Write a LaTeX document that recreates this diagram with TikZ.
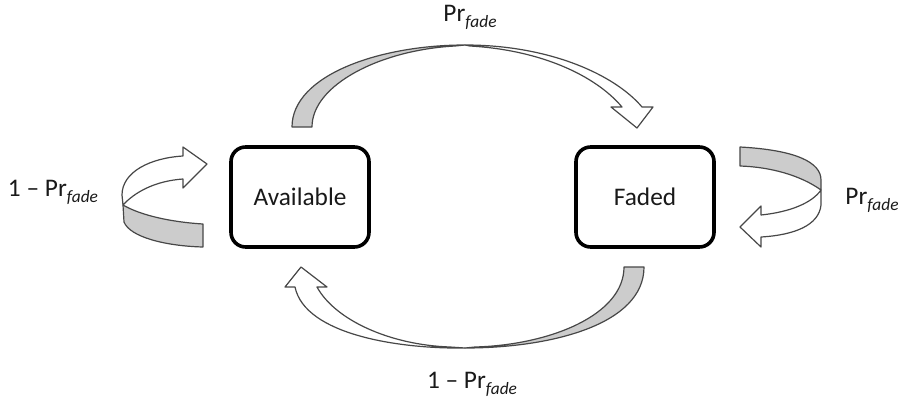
\documentclass[tikz,border=0pt]{standalone}
\usepackage{fontspec}
\setmainfont{Carlito}
\tikzset{
  statebox/.style={draw=black, line width=2.7pt, rounded corners=11pt, fill=white,
    minimum width=103.5pt, minimum height=75pt, font=\fontsize{19}{21}\selectfont, text=black!90},
  ribbonwhite/.style={fill=white, draw=black!72, line width=0.9pt, line join=round},
  ribbongray/.style={fill=black!20, draw=black!72, line width=0.9pt, line join=round},
  problabel/.style={inner sep=0pt, font=\fontsize{19}{21}\selectfont, text=black!90},
}
\newcommand{\prfade}{Pr\raisebox{-4.5pt}{\fontsize{13}{14}\selectfont\itshape fade}}
\begin{document}
\begin{tikzpicture}[x=0.75pt,y=-0.75pt]
\useasboundingbox (0,0) rectangle (917,410);

% states
\node[statebox] (avail) at (300,197) {Available};
\node[statebox] (faded) at (645,197) {Faded};

% upper ribbon arrow: Available -> Faded
\draw[ribbonwhite] (465,45) .. controls (550,45) and (615,75) .. (642,107)
  -- (653,107) -- (637,128) -- (611,107) -- (622,107)
  .. controls (595,75) and (540,50) .. (470,46) -- cycle;
\draw[ribbongray] (292,127) .. controls (292,75) and (380,45) .. (465,45)
  -- (455,46) .. controls (380,50) and (312,85) .. (312,127) -- cycle;

% lower ribbon arrow: Faded -> Available
\draw[ribbonwhite] (465,348) .. controls (400,349) and (305,335) .. (295,287)
  -- (285,287) -- (301,267) -- (327,287) -- (317,287)
  .. controls (335,320) and (390,345) .. (450,347) -- cycle;
\draw[ribbongray] (644,267) .. controls (644,325) and (550,348) .. (465,348)
  -- (475,347) .. controls (550,345) and (624,315) .. (624,267) -- cycle;

% self loop on Available
\draw[ribbonwhite] (207,164) -- (183,147) -- (183,156)
  .. controls (150,158) and (122,172) .. (122,195) -- (123,205)
  .. controls (135,192) and (155,181) .. (183,179) -- (183,188) -- cycle;
\draw[ribbongray] (123,205) .. controls (140,215) and (170,222) .. (203,224)
  -- (203,247) .. controls (165,246) and (130,237) .. (124,222) -- cycle;

% self loop on Faded
\draw[ribbongray] (740,147) .. controls (795,150) and (821,162) .. (821,180)
  -- (821,190) .. controls (800,175) and (770,167) .. (740,166) -- cycle;
\draw[ribbonwhite] (821,190) -- (821,205)
  .. controls (819,225) and (795,235) .. (761,237)
  -- (761,247) -- (740,227) -- (761,206) -- (761,215)
  .. controls (790,212) and (812,203) .. (821,190) -- cycle;

% transition probabilities
\node[problabel] (ptop) at (470,17) {\prfade};
\node[problabel] (pbot) at (472,384) {1 -- \prfade};
\node[problabel] (pleft) at (53,192) {1 -- \prfade};
\node[problabel] (pright) at (872,200) {\prfade};
\end{tikzpicture}
\end{document}
